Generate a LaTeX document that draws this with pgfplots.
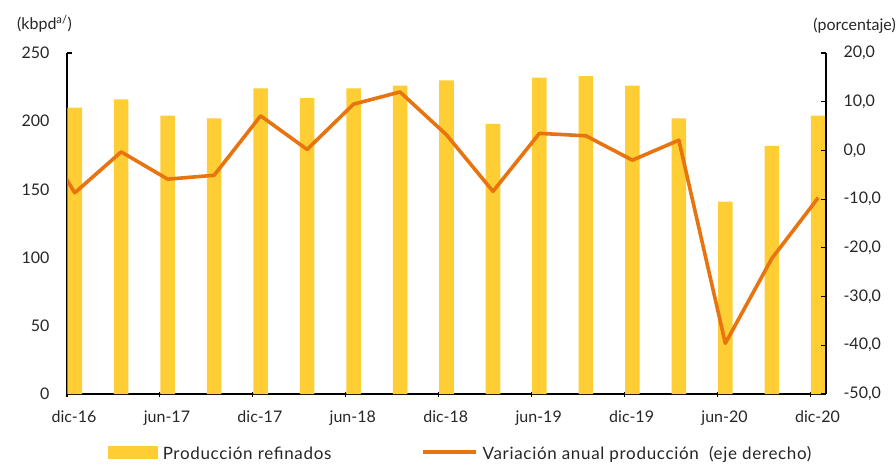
\documentclass[border=0pt]{standalone}
\usepackage{pgfplots}
\pgfplotsset{compat=1.18}
\usetikzlibrary{calc}
\usepackage{fontspec}
\setmainfont{Lato}
\definecolor{barc}{RGB}{255,206,52}
\definecolor{linec}{RGB}{232,116,16}
\pgfplotstableread{
x y
0.5 210
3.5 216
6.5 204
9.5 202
12.5 224
15.5 217
18.5 224
21.5 226
24.5 230
27.5 198
30.5 232
33.5 233
36.5 226
39.5 202
42.5 141
45.5 182
48.5 204
}\bars
\pgfplotstableread{
x y
-2.5 7.0
0.5 -8.7
3.5 -0.3
6.5 -5.9
9.5 -5.1
12.5 7.1
15.5 0.2
18.5 9.5
21.5 12.0
24.5 3.2
27.5 -8.4
30.5 3.5
33.5 3.0
36.5 -2.0
39.5 2.1
42.5 -39.6
45.5 -22.2
48.5 -9.7
}\var
\begin{document}
\fontsize{16}{19}\selectfont
\begin{tikzpicture}
\pgfplotsset{
  every axis/.append style={
    scale only axis, width=759pt, height=341pt,
    xmin=0, xmax=49,
    /pgf/number format/assume math mode=true,
    tick label style={font=\fontsize{16}{19}\selectfont, black!85},
    axis line style={black, line width=1.1pt},
    major tick length=5pt,
    tick style={black, line width=1.1pt},
  }
}
\begin{axis}[name=ax1,
  axis y line*=left, axis x line*=bottom,
  ymin=0, ymax=250, ytick={0,50,...,250},
  xtick={0,6,...,48},
  xticklabels={dic-16,jun-17,dic-17,jun-18,dic-18,jun-19,dic-19,jun-20,dic-20},
  xticklabel style={xshift=7pt, yshift=-9pt},
  xtick align=center,
  ytick align=inside,
  yticklabel style={xshift=-12pt},
  clip=true,
]
\addplot[ybar, bar width=0.94, bar shift=0pt, fill=barc, draw=none] table[x=x,y=y]{\bars};
\end{axis}
\begin{axis}[
  axis y line*=right, axis x line=none,
  ymin=-50, ymax=20, ytick={-50,-40,...,20},
  ytick align=inside,
  yticklabel style={/pgf/number format/.cd, fixed, fixed zerofill, precision=1, use comma, /tikz/.cd, anchor=west, xshift=12pt},
  clip=true,
  legend style={at={(0.5,-0.145)}, xshift=14pt, anchor=north, draw=none, legend columns=2,
    inner ysep=1pt,
    font=\fontsize{17}{20}\selectfont\addfontfeature{LetterSpace=4}, text=black!85,
    /tikz/every odd column/.append style={column sep=3pt},
    /tikz/every even column/.append style={column sep=88pt}},
]
\addlegendimage{legend image code/.code={\fill[barc] (0cm,-0.12cm) rectangle (1.75cm,0.28cm);}}
\addlegendentry{Producción refinados}
\addplot[linec, line width=3.6pt, no marks, line join=round,
  legend image code/.code={\draw[linec, line width=3.6pt] (0cm,0.08cm) -- (1.85cm,0.08cm);}] table[x=x,y=y]{\var};
\addlegendentry{Variación anual producción\ \ (eje derecho)}
\end{axis}
\node[anchor=base west, font=\fontsize{16}{19}\selectfont, black!85, inner sep=0pt] at ($(ax1.north west)+(-50pt,23pt)$) {(kbpd\textsuperscript{a/})};
\node[anchor=base east, font=\fontsize{16}{19}\selectfont, black!85, inner sep=0pt] at ($(ax1.north east)+(70pt,22pt)$) {(porcentaje)};
\pgfresetboundingbox
\path[use as bounding box] ($(ax1.south west)+(-67pt,-72pt)$) rectangle ($(ax1.north east)+(70pt,53pt)$);
\end{tikzpicture}
\end{document}
